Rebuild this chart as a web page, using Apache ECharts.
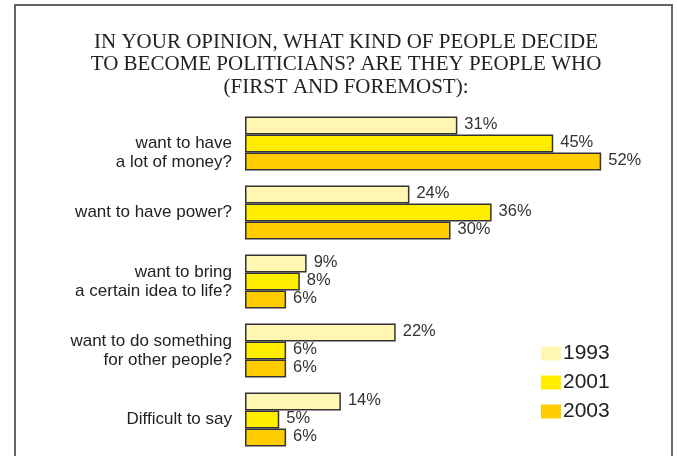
<!DOCTYPE html>
<html>
<head>
<meta charset="utf-8">
<script src="https://cdn.jsdelivr.net/npm/echarts@6/dist/echarts.min.js"></script>
<style>
  html, body { margin: 0; padding: 0; background: #fff; }
  #chart { width: 677px; height: 456px; }
</style>
</head>
<body>
<div id="chart"></div>
<script>
// Survey answers, percentages per year
const categories = [
  'want to have\na lot of money?',
  'want to have power?',
  'want to bring\na certain idea to life?',
  'want to do something\nfor other people?',
  'Difficult to say'
];
const years = ['1993', '2001', '2003'];
const values1993 = [31, 24, 9, 22, 14];
const values2001 = [45, 36, 8, 6, 5];
const values2003 = [52, 30, 6, 6, 6];

const colors = ['#FFF6B2', '#FFEE00', '#FFCC00'];
const seriesValues = [values1993, values2001, values2003];
const sans = 'Liberation Sans, Arial, sans-serif';

const chart = echarts.init(document.getElementById('chart'), null, { renderer: 'canvas' });

const series = years.map((y, i) => ({
  name: y,
  type: 'bar',
  data: seriesValues[i],
  barWidth: 18,
  barGap: '0%',
  itemStyle: {
    color: colors[i],
    borderColor: '#333333',
    borderWidth: 1.5
  },
  label: {
    show: true,
    position: 'right',
    distance: 7,
    offset: [0, -1],
    formatter: '{c}%',
    color: '#333333',
    fontFamily: sans,
    fontSize: 16.5
  },
  emphasis: { disabled: true },
  animation: false
}));

chart.setOption({
  backgroundColor: '#ffffff',
  animation: false,
  title: {
    text: 'IN YOUR OPINION, WHAT KIND OF PEOPLE DECIDE\nTO BECOME POLITICIANS? ARE THEY PEOPLE WHO\n(FIRST AND FOREMOST):',
    left: 341,
    top: 26,
    textAlign: 'center',
    textStyle: {
      fontFamily: 'Liberation Serif, Times New Roman, serif',
      fontWeight: 'normal',
      fontSize: 21,
      lineHeight: 22.5,
      color: '#222222'
    }
  },
  legend: {
    orient: 'vertical',
    left: 541,
    top: 343,
    padding: 0,
    itemWidth: 20,
    itemHeight: 14,
    itemGap: 8,
    icon: 'rect',
    itemStyle: { borderWidth: 0 },
    textStyle: {
      fontFamily: sans,
      fontSize: 21,
      color: '#222222',
      padding: [0, 0, 0, -3]
    },
    data: years
  },
  grid: {
    left: 245,
    right: 21,
    top: 109,
    bottom: 2,
    containLabel: false
  },
  xAxis: {
    type: 'value',
    min: 0,
    max: 60,
    show: false
  },
  yAxis: {
    type: 'category',
    inverse: true,
    data: categories,
    axisLine: { show: false },
    axisTick: { show: false },
    splitLine: { show: false },
    axisLabel: {
      margin: 13,
      fontFamily: sans,
      fontSize: 17,
      lineHeight: 19,
      color: '#222222',
      formatter: function (v, idx) {
        return idx === 0 ? '{low|' + v.split('\n').join('}\n{low|') + '}' : v;
      },
      rich: {
        low: {
          fontFamily: sans,
          fontSize: 17,
          lineHeight: 19,
          color: '#222222',
          padding: [18, 0, 0, 0]
        }
      }
    }
  },
  graphic: [
    {
      type: 'polyline',
      shape: { points: [[15, 470], [15, 5], [672, 5], [672, 470]] },
      style: { stroke: '#666666', lineWidth: 2, fill: null },
      silent: true
    }
  ],
  series: series
});
</script>
</body>
</html>
